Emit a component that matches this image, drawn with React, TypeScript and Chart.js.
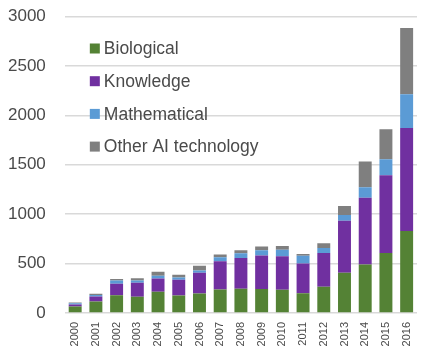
import React, { useEffect, useRef } from "react";
import { Chart, registerables } from "chart.js";

Chart.register(...registerables);

const years = ["2000", "2001", "2002", "2003", "2004", "2005", "2006", "2007", "2008", "2009", "2010", "2011", "2012", "2013", "2014", "2015", "2016"];
const biological = [65, 117, 180, 165, 215, 178, 198, 238, 245, 242, 235, 200, 265, 406, 490, 608, 829];
const knowledge = [20, 50, 115, 140, 135, 158, 208, 286, 312, 339, 340, 300, 343, 528, 675, 786, 1042];
const mathematical = [13, 14, 33, 25, 27, 23, 24, 40, 48, 54, 66, 80, 50, 57, 108, 161, 343];
const otherAI = [7, 14, 17, 22, 40, 27, 47, 27, 30, 37, 37, 17, 47, 91, 259, 303, 669];
const seriesNames = ["Biological", "Knowledge", "Mathematical", "Other AI technology"];
const seriesColors = ["#548235", "#7030A0", "#5B9BD5", "#7F7F7F"];
const yTicks = [0, 500, 1000, 1500, 2000, 2500, 3000];

const FONT = "'Liberation Sans', Arial, sans-serif";
const TEXT = "#4a4a4a";

const insideLegend = {
  id: "insideLegend",
  afterDraw(chart: any) {
    const { ctx, chartArea } = chart;
    ctx.save();
    ctx.font = `17.5px ${FONT}`;
    ctx.textBaseline = "middle";
    ctx.textAlign = "left";
    chart.data.datasets.forEach((ds: any, i: number) => {
      const y = chartArea.top + 32 + i * 32.7;
      const x = chartArea.left + 25;
      ctx.fillStyle = ds.backgroundColor;
      ctx.fillRect(x, y - 5, 10, 10);
      ctx.fillStyle = TEXT;
      ctx.fillText(ds.label, x + 14, y + 1);
    });
    ctx.restore();
  },
};

export default function App() {
  const ref = useRef<HTMLCanvasElement>(null);
  useEffect(() => {
    if (!ref.current) return;
    const values = [biological, knowledge, mathematical, otherAI];
    const chart = new Chart(ref.current, {
      type: "bar",
      data: {
        labels: years,
        datasets: values.map((v, i) => ({
          label: seriesNames[i],
          data: v,
          backgroundColor: seriesColors[i],
          borderWidth: 0,
          barPercentage: 0.625,
          categoryPercentage: 1,
        })),
      },
      options: {
        animation: false,
        responsive: true,
        maintainAspectRatio: false,
        layout: { padding: 0 },
        plugins: {
          legend: { display: false },
          tooltip: { enabled: false },
        },
        scales: {
          x: {
            stacked: true,
            grid: { display: false, drawTicks: false },
            border: { display: false },
            afterFit: (axis: any) => {
              axis.height = 34;
              axis.paddingRight = 0;
              axis.paddingLeft = 0;
            },
            ticks: {
              minRotation: 90,
              maxRotation: 90,
              padding: 9,
              color: TEXT,
              font: { family: FONT, size: 11 },
            },
          },
          y: {
            stacked: true,
            min: 0,
            max: 3000,
            afterBuildTicks: (axis: any) => {
              axis.ticks = yTicks.map((v) => ({ value: v }));
            },
            grid: {
              color: "#d9d9d9",
              lineWidth: 1.5,
              drawTicks: true,
              tickLength: 19,
              tickColor: "rgba(0,0,0,0)",
            },
            border: { display: false },
            ticks: {
              padding: 0,
              color: TEXT,
              font: { family: FONT, size: 17, lineHeight: 1 },
              callback: (v: any) => String(v),
            },
          },
        },
      },
      plugins: [insideLegend],
    });
    return () => chart.destroy();
  }, []);
  return (
    <div style={{ position: "relative", width: "409px", height: "339px" }}>
      <canvas ref={ref} />
    </div>
  );
}
